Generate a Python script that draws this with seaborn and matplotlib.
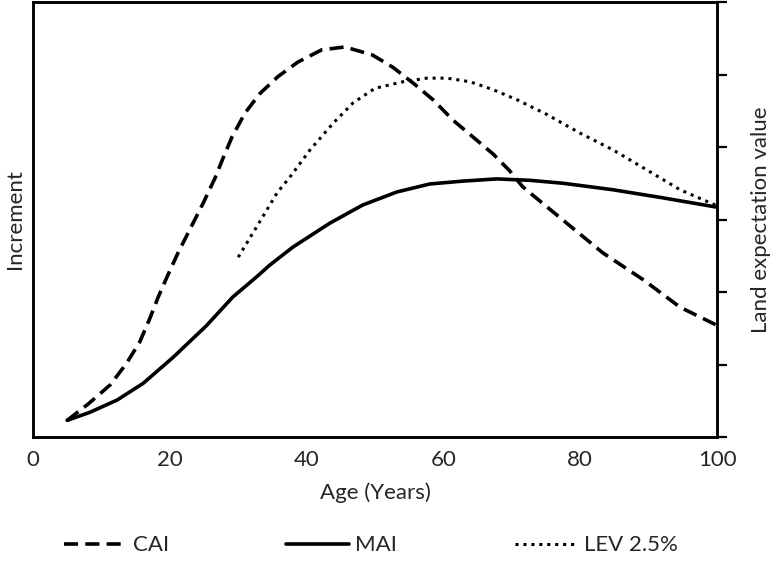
import numpy as np
import pandas as pd
import seaborn as sns
import matplotlib
matplotlib.use("Agg")
import matplotlib.pyplot as plt

# values (both axes on an unlabelled 0-6 scale)
cai_age = [5, 8, 11.3, 13.7, 15.6, 17.1, 18.3, 19.7, 21.2, 24.9, 26.6, 27.8, 29.1, 31,
           33.2, 35.8, 38.7, 42.2, 45.6, 49.6, 52.6, 55.6, 58.5, 61.4, 64.3, 67.3, 69.7,
           71.6, 77.5, 83.3, 89.2, 94.6, 100]
cai_val = [0.23, 0.45, 0.72, 1.02, 1.31, 1.64, 1.93, 2.23, 2.54, 3.23, 3.57, 3.85, 4.14,
           4.47, 4.74, 4.97, 5.17, 5.34, 5.38, 5.27, 5.10, 4.88, 4.65, 4.37, 4.14, 3.90,
           3.67, 3.45, 2.99, 2.54, 2.17, 1.79, 1.54]

mai_age = [5, 8.3, 12.3, 16.1, 20.5, 25.4, 29.2, 32.7, 34.6, 38, 43.4, 48.2, 53.2, 58,
           62.9, 67.8, 72.7, 77.5, 84.8, 92, 100]
mai_val = [0.23, 0.34, 0.51, 0.74, 1.10, 1.54, 1.93, 2.21, 2.37, 2.62, 2.95, 3.20, 3.38,
           3.49, 3.53, 3.56, 3.54, 3.50, 3.41, 3.30, 3.17]

lev_age = [30, 32.7, 35.7, 37.6, 40.5, 43.9, 46.8, 50, 54.1, 57.6, 60.5, 63.9, 67.3,
           70.8, 75.1, 80, 84.8, 89.8, 94.6, 99, 100]
lev_val = [2.48, 2.90, 3.37, 3.59, 3.96, 4.33, 4.61, 4.81, 4.90, 4.95, 4.95, 4.90, 4.79,
           4.65, 4.45, 4.19, 3.96, 3.68, 3.41, 3.23, 3.19]

x_ticks = [0, 20, 40, 60, 80, 100]

sns.set_style("white")
plt.rcParams['font.family'] = ['Lato', 'DejaVu Sans']

fig = plt.figure(figsize=(7.8, 5.72), dpi=100)
ax = fig.add_axes([0.0423, 0.236, 0.877, 0.7605])
ax2 = ax.twinx()

sns.lineplot(x=cai_age, y=cai_val, ax=ax, color='black', lw=2.6, label='CAI',
             legend=False)
ax.lines[-1].set_dashes((3.9, 2.0))
sns.lineplot(x=mai_age, y=mai_val, ax=ax, color='black', lw=2.6, label='MAI',
             legend=False)
sns.lineplot(x=lev_age, y=lev_val, ax=ax2, color='black', lw=2.2, label='LEV 2.5%',
             legend=False)
ax2.lines[-1].set_dashes((1, 1.6))

for a in (ax, ax2):
    a.set_xlim(0, 100)
    a.set_ylim(0, 6)
    for s in a.spines.values():
        s.set_color('black')
        s.set_linewidth(1.8)

ax.set_xticks(x_ticks)
ax.set_xticklabels([str(t) for t in x_ticks], fontsize=16)
ax.tick_params(axis='x', length=0, pad=9)
ax.set_yticks([])
ax2.set_yticks(range(0, 7))
ax2.set_yticklabels([])
ax2.tick_params(axis='y', direction='out', length=7, width=1.6, color='black', right=True)

ax.set_xlabel('Age (Years)', fontsize=16, labelpad=9)
ax.set_ylabel('Increment', fontsize=16, labelpad=6)
ax2.set_ylabel('Land expectation value', fontsize=16, labelpad=14)

handles = ax.lines + ax2.lines
fig.legend(handles, ['CAI', 'MAI', 'LEV 2.5%'], loc='lower left',
           bbox_to_anchor=(0.056, -0.006), ncol=3, frameon=False, fontsize=16,
           handlelength=2.8, handletextpad=0.3, columnspacing=5.3)

fig.savefig('out.png', dpi=100)
